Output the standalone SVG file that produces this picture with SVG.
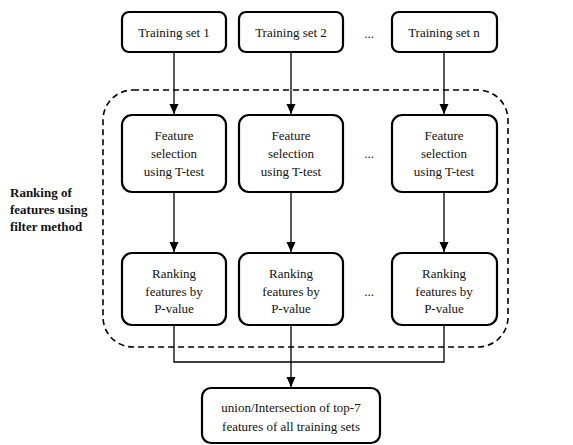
<svg xmlns="http://www.w3.org/2000/svg" width="573" height="445" viewBox="0 0 573 445">
<defs>
<marker id="ah" markerWidth="12" markerHeight="12" refX="10" refY="6" orient="auto" markerUnits="userSpaceOnUse">
<path d="M0,1.5 L10,6 L0,10.5 Z" fill="#000"/>
</marker>
<style>
.box{fill:#fff;stroke:#000;stroke-width:2.2}
text{font-family:'Liberation Serif','DejaVu Serif',serif}
.t{font-size:13px;fill:#111;text-anchor:middle}
.b{font-size:13px;font-weight:bold;fill:#111}
.c{fill:none;stroke:#000;stroke-width:1.3}
.dash{fill:none;stroke:#000;stroke-width:1.6;stroke-dasharray:6,4}
</style>
</defs>
<rect width="573" height="445" fill="#fff"/>
<rect class="dash" x="103" y="90" width="405" height="257" rx="30"/>
<g id="label" font-family="Liberation Serif, serif"><text class="b" x="10" y="197">Ranking of</text><text class="b" x="10" y="214">features using</text><text class="b" x="10" y="231">filter method</text></g>
<g id="connectors">
<line class="c" x1="174" y1="52" x2="174" y2="114" marker-end="url(#ah)"/>
<line class="c" x1="291" y1="52" x2="291" y2="114" marker-end="url(#ah)"/>
<line class="c" x1="444" y1="52" x2="444" y2="114" marker-end="url(#ah)"/>
<line class="c" x1="174" y1="192" x2="174" y2="252" marker-end="url(#ah)"/>
<line class="c" x1="291" y1="192" x2="291" y2="252" marker-end="url(#ah)"/>
<line class="c" x1="444" y1="192" x2="444" y2="252" marker-end="url(#ah)"/>
<polyline class="c" points="174,325 174,362 444,362 444,325"/>
<line class="c" x1="291" y1="325" x2="291" y2="387" marker-end="url(#ah)"/>
</g>
<g id="ts1"><rect class="box" x="122" y="12" width="104" height="40" rx="7"/><text class="t" x="174" y="37">Training set 1</text></g>
<g id="ts2"><rect class="box" x="239" y="12" width="104" height="40" rx="7"/><text class="t" x="291" y="37">Training set 2</text></g>
<g id="tsn"><rect class="box" x="392" y="12" width="105" height="40" rx="7"/><text class="t" x="444" y="37">Training set n</text></g>
<g id="dots"><text class="t" x="369" y="38">...</text><text class="t" x="369" y="158">...</text><text class="t" x="369" y="296">...</text></g>
<g id="fs1"><rect class="box" x="122" y="115" width="104" height="77" rx="10"/><text class="t" x="174" y="140">Feature</text><text class="t" x="174" y="158">selection</text><text class="t" x="174" y="176">using T-test</text></g>
<g id="fs2"><rect class="box" x="239" y="115" width="104" height="77" rx="10"/><text class="t" x="291" y="140">Feature</text><text class="t" x="291" y="158">selection</text><text class="t" x="291" y="176">using T-test</text></g>
<g id="fsn"><rect class="box" x="392" y="115" width="105" height="77" rx="10"/><text class="t" x="444" y="140">Feature</text><text class="t" x="444" y="158">selection</text><text class="t" x="444" y="176">using T-test</text></g>
<g id="rk1"><rect class="box" x="122" y="253" width="104" height="72" rx="10"/><text class="t" x="174" y="278">Ranking</text><text class="t" x="174" y="296">features by</text><text class="t" x="174" y="313">P-value</text></g>
<g id="rk2"><rect class="box" x="239" y="253" width="104" height="72" rx="10"/><text class="t" x="291" y="278">Ranking</text><text class="t" x="291" y="296">features by</text><text class="t" x="291" y="313">P-value</text></g>
<g id="rkn"><rect class="box" x="392" y="253" width="105" height="72" rx="10"/><text class="t" x="444" y="278">Ranking</text><text class="t" x="444" y="296">features by</text><text class="t" x="444" y="313">P-value</text></g>
<g id="final"><rect class="box" x="202" y="388" width="178" height="55" rx="9"/><text class="t" x="291" y="412">union/Intersection of top-7</text><text class="t" x="291" y="431">features of all training sets</text></g>
</svg>
